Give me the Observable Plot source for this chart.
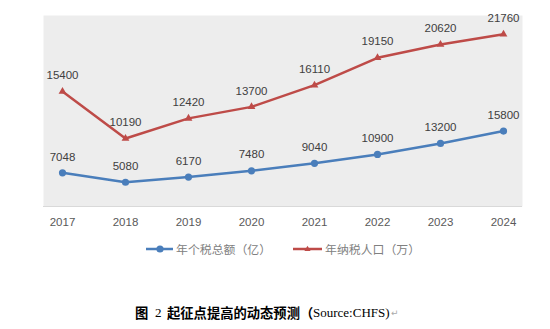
<!DOCTYPE html>
<html>
<head>
<meta charset="utf-8">
<script src="https://cdn.jsdelivr.net/npm/d3@7"></script>
<script src="https://cdn.jsdelivr.net/npm/@observablehq/plot@0.6"></script>
<style>
  html, body { margin: 0; padding: 0; background: #fff; }
  #wrap { position: relative; width: 550px; height: 329px; font-family: "Liberation Sans", Arial, sans-serif; }
  #chart { position: absolute; left: 0; top: 0; }
  #legend { position: absolute; top: 240px; left: 0; width: 550px; height: 16px; }
  .item { position: absolute; top: 0; display: flex; align-items: center; font-family: "Noto Sans CJK SC", sans-serif; font-size: 11.9px; color: #808080; white-space: nowrap; }
  #caption { position: absolute; top: 303px; left: 135px; height: 20px; white-space: nowrap; color: #000; }
  #caption span { position: absolute; top: 0; line-height: 20px; }
  #caption .cjk { font-family: "Noto Sans CJK SC", sans-serif; font-weight: 700; font-size: 13.3px; }
  #caption .lat { font-family: "Liberation Serif", "Times New Roman", serif; font-size: 13px; }
  #caption .mark { color: #aaa; font-size: 9px; font-family: "DejaVu Sans", sans-serif; }
</style>
</head>
<body>
<div id="wrap">
  <div id="chart"></div>
  <div id="legend"></div>
  <div id="caption"><span class="cjk" style="left:0px">图</span><span class="lat" style="left:20px">2</span><span class="cjk" style="left:32px">起征点提高的动态预测（</span><span class="lat" style="left:178px">Source:CHFS)</span><span class="mark" style="left:256px">↵</span></div>
</div>
<script>
// ---- data ----
const years = ["2017", "2018", "2019", "2020", "2021", "2022", "2023", "2024"];
const taxTotal = [7048, 5080, 6170, 7480, 9040, 10900, 13200, 15800];        // 年个税总额（亿）
const taxpayers = [15400, 10190, 12420, 13700, 16110, 19150, 20620, 21760];  // 年纳税人口（万）
const seriesNames = ["年个税总额（亿）", "年纳税人口（万）"];
const seriesColors = ["#4a7ebb", "#be4b48"];
// primary (left, hidden) axis domain and secondary (right, hidden) axis domain
const primaryDomain = [0, 40000];
const secondaryDomain = [2630, 23850];

// ---- tables ----
const blue = years.map((y, i) => ({year: y, value: taxTotal[i]}));
const red = years.map((y, i) => ({year: y, value: taxpayers[i]}));
// map secondary values onto the primary scale
const toPrimary = v => primaryDomain[0] + (v - secondaryDomain[0]) / (secondaryDomain[1] - secondaryDomain[0]) * (primaryDomain[1] - primaryDomain[0]);
const redY = d => toPrimary(d.value);

const labelStyle = {fill: "#404040", fontSize: 11.5, fontFamily: "Liberation Sans, Arial, sans-serif"};

const plot = Plot.plot({
  width: 550,
  height: 232,
  marginTop: 15,
  marginBottom: 26,
  marginLeft: 43,
  marginRight: 28,
  style: {background: "transparent", fontFamily: "Liberation Sans, Arial, sans-serif"},
  x: {type: "point", domain: years, padding: 0.26, label: null},
  y: {domain: primaryDomain, axis: null},
  marks: [
    Plot.frame({fill: "#ededed", stroke: null}),
    Plot.ruleY([0], {stroke: "#d9d9d9", strokeWidth: 1}),
    Plot.axisX({tickSize: 0, tickPadding: 11, fontSize: 11.5, fill: "#595959", label: null}),
    Plot.line(red, {x: "year", y: redY, stroke: seriesColors[1], strokeWidth: 2.5}),
    Plot.dot(red, {x: "year", y: redY, symbol: "triangle", r: 2.9, fill: seriesColors[1], stroke: null}),
    Plot.text(red, {x: "year", y: redY, text: d => String(d.value), dy: -16, ...labelStyle}),
    Plot.line(blue, {x: "year", y: "value", stroke: seriesColors[0], strokeWidth: 2.5}),
    Plot.dot(blue, {x: "year", y: "value", r: 3.6, fill: seriesColors[0], stroke: null}),
    Plot.text(blue, {x: "year", y: "value", text: d => String(d.value), dy: -16, ...labelStyle})
  ]
});
document.getElementById("chart").appendChild(plot);

// ---- legend ----
const legend = document.getElementById("legend");
const legendX = [146, 293];
seriesNames.forEach((name, i) => {
  const item = document.createElement("div");
  item.className = "item";
  item.style.left = legendX[i] + "px";
  const sym = i === 0
    ? `<svg width="28" height="14"><line x1="0" y1="7" x2="27" y2="7" stroke="${seriesColors[i]}" stroke-width="2.5"/><circle cx="14" cy="7" r="3.6" fill="${seriesColors[i]}"/></svg>`
    : `<svg width="30" height="14"><line x1="0" y1="7" x2="29" y2="7" stroke="${seriesColors[i]}" stroke-width="2.5"/><path d="M14.5,3.8L17.6,9.1L11.4,9.1Z" fill="${seriesColors[i]}"/></svg>`;
  item.innerHTML = sym + `<span style="margin-left:2px">${name}</span>`;
  legend.appendChild(item);
});
</script>
</body>
</html>
